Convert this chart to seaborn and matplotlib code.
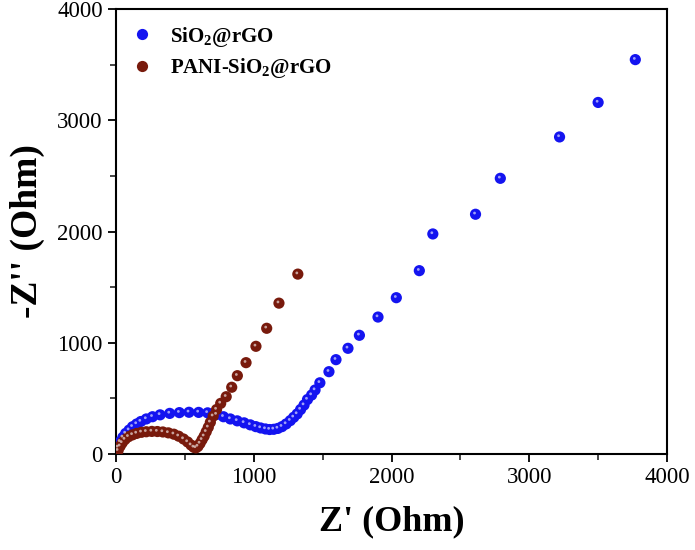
import numpy as np
import pandas as pd
import matplotlib
matplotlib.use('Agg')
import matplotlib.pyplot as plt
import matplotlib.transforms as mtransforms
import seaborn as sns

# SiO2@rGO (Nyquist data)
z_re_sio2 = [15, 30, 50, 70, 95, 120, 150, 180, 220, 265, 320, 390, 460, 530, 600,
             665, 730, 780, 830, 880, 930, 975, 1015, 1050, 1085, 1115, 1145, 1175,
             1205, 1235, 1265, 1290, 1315, 1340, 1365, 1390, 1420, 1445, 1480, 1546,
             1597, 1684, 1767, 1902, 2035, 2202, 2300, 2610, 2790, 3220, 3500, 3770]
z_im_sio2 = [60, 110, 150, 185, 215, 245, 270, 292, 315, 335, 352, 365, 372, 375, 374,
             370, 355, 335, 315, 298, 280, 262, 246, 234, 225, 220, 222, 230,
             246, 270, 300, 330, 360, 400, 440, 490, 530, 575, 640, 740,
             848, 950, 1067, 1231, 1405, 1648, 1978, 2155, 2478, 2850, 3160, 3545]

# PANI-SiO2@rGO
z_re_pani = [15, 30, 45, 65, 90, 120, 150, 185, 220, 260, 300, 340, 380, 420, 455,
             490, 520, 545, 565, 580, 595, 610, 625, 640, 655, 670, 685, 705, 730,
             760, 800, 840, 881, 944, 1016, 1094, 1183, 1320]
z_im_pani = [30, 70, 100, 130, 155, 172, 185, 195, 200, 203, 202, 198, 190, 178, 160,
             135, 108, 80, 60, 55, 68, 95, 128, 160, 200, 240, 285, 340, 400,
             455, 515, 600, 704, 821, 968, 1130, 1356, 1617]

labels = [r'SiO$_2$@rGO', r'PANI-SiO$_2$@rGO']
colors = ['#1414f0', '#781a0c']

df = pd.concat([
    pd.DataFrame({'x': z_re_sio2, 'y': z_im_sio2, 'sample': labels[0]}),
    pd.DataFrame({'x': z_re_pani, 'y': z_im_pani, 'sample': labels[1]}),
], ignore_index=True)

sns.set_theme(style='ticks')
plt.rcParams['font.family'] = ['Liberation Serif', 'DejaVu Serif']
plt.rcParams['text.color'] = 'black'
plt.rcParams['axes.labelcolor'] = 'black'
plt.rcParams['mathtext.fontset'] = 'custom'
plt.rcParams['mathtext.rm'] = 'Liberation Serif:bold'
plt.rcParams['mathtext.it'] = 'Liberation Serif:bold'
plt.rcParams['mathtext.bf'] = 'Liberation Serif:bold'

fig = plt.figure(figsize=(6.95, 5.5), dpi=100)
ax = fig.add_axes([116 / 695, 1 - 454 / 550, (667 - 116) / 695, (454 - 9) / 550])

sns.scatterplot(data=df, x='x', y='y', hue='sample', palette=colors, s=65,
                edgecolor='none', linewidth=0, ax=ax, zorder=3)

# small highlight on each ball
shift = mtransforms.ScaledTranslation(-1 / 100, 1.2 / 100, fig.dpi_scale_trans)
for xs, ys in [(z_re_sio2, z_im_sio2), (z_re_pani, z_im_pani)]:
    ax.scatter(xs, ys, s=4, color='white', alpha=0.6, edgecolor='none',
               transform=ax.transData + shift, zorder=4)

ax.set_xlim(0, 4000)
ax.set_ylim(0, 4000)
ax.set_xticks([0, 1000, 2000, 3000, 4000])
ax.set_yticks([0, 1000, 2000, 3000, 4000])
ax.set_xticks(np.arange(500, 4000, 1000), minor=True)
ax.set_yticks(np.arange(500, 4000, 1000), minor=True)
ax.tick_params(which='major', direction='out', length=6, width=1.3, labelsize=16.5,
               colors='black', top=False, right=False)
ax.tick_params(which='minor', direction='out', length=4, width=1.2, top=False, right=False)
for sp in ax.spines.values():
    sp.set_visible(True)
    sp.set_linewidth(1.5)
    sp.set_color('black')

ax.set_xlabel("Z' (Ohm)", fontsize=26, fontweight='bold', labelpad=12)
ax.set_ylabel("-Z'' (Ohm)", fontsize=27, fontweight='bold', labelpad=9)

handles, _ = ax.get_legend_handles_labels()
leg = ax.legend(handles, labels, loc='upper left', frameon=False,
                prop={'family': 'Liberation Serif', 'weight': 'bold', 'size': 15},
                handlelength=1.0, handletextpad=0.85, labelspacing=0.35,
                borderaxespad=0.35, markerscale=1.0)

fig.savefig('out.png', dpi=100)
